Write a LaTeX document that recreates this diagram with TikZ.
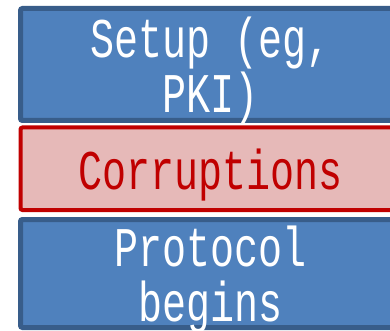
\documentclass[tikz,border=0pt]{standalone}
\usepackage{fontspec}
\setmainfont[FakeStretch=0.715]{Liberation Mono}
\definecolor{stageblue}{HTML}{4F81BD}
\definecolor{stageedge}{HTML}{385D8A}
\definecolor{corruptred}{HTML}{C00000}
\definecolor{corruptfill}{HTML}{E6B9B8}
\tikzset{stagebox/.style = {draw=stageedge,fill=stageblue,line width=5pt,rounded corners=2pt,
	minimum width=379.5pt,text=white,align=center,inner sep=0pt,text depth=0pt,
	font=\fontsize{56}{55}\selectfont},
	corruptbox/.style = {stagebox,draw=corruptred,fill=corruptfill,line width=4pt,text=corruptred}}

\begin{document}
\begin{tikzpicture}[x=1pt,y=-1pt]
	\useasboundingbox (0,0) rectangle (390,331);
	\clip (0,0) rectangle (390,331);
	\node[stagebox,minimum height=112pt] (setup) at (210.25,64.5) {Setup (eg,\\PKI)};
	\node[corruptbox,minimum height=82.5pt] (corrupt) at (210.25,168.75) {Corruptions};
	\node[stagebox,minimum height=108pt] (begins) at (210.25,273.5) {Protocol\\begins};

\end{tikzpicture}
\end{document}
